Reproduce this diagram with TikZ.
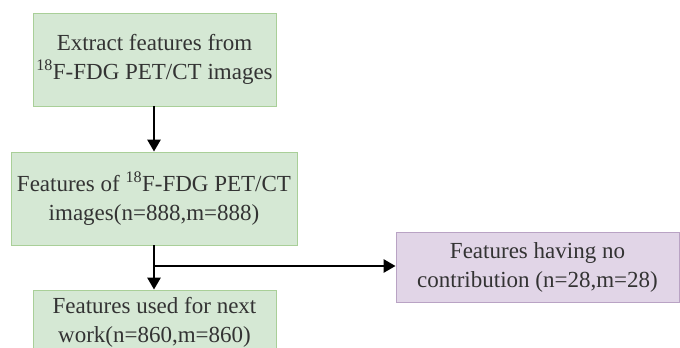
\documentclass[tikz,border=0pt]{standalone}
\usepackage{fontspec}
\setmainfont{Liberation Serif}
\usetikzlibrary{arrows.meta}
\definecolor{gfill}{HTML}{D5E8D4}
\definecolor{gdraw}{HTML}{A9CF98}
\definecolor{pfill}{HTML}{E1D5E7}
\definecolor{pdraw}{HTML}{B9A3C4}
\tikzset{
  box/.style={draw=gdraw, fill=gfill, line width=0.8pt, align=center, inner sep=0pt,
    font=\fontsize{23}{29}\selectfont, text=black!80},
  pbox/.style={box, draw=pdraw, fill=pfill},
  conn/.style={line width=2.6pt, -{Triangle[length=12pt,width=13pt]}},
}
\begin{document}
\begin{tikzpicture}[x=1pt,y=-1pt]
\useasboundingbox (0,0) rectangle (680,348);
\clip (0,0) rectangle (680,348);
\node[box, minimum width=243pt, minimum height=93pt] (a) at (154.5,59.5)
  {Extract features from\\\textsuperscript{18}F-FDG PET/CT images};
\node[box, minimum width=286pt, minimum height=93pt] (b) at (154,198.5)
  {Features of \textsuperscript{18}F-FDG PET/CT\\images(n=888,m=888)};
\node[box, minimum width=243pt, minimum height=64pt] (c) at (154.5,322)
  {Features used for next\\work(n=860,m=860)};
\node[pbox, minimum width=283pt, minimum height=70pt] (d) at (537.5,267)
  {Features having no\\contribution (n=28,m=28)};
\coordinate (j) at (154,266);
\draw[conn] (a.south -| j) -- (b.north -| j);
\draw[conn] (b.south -| j) -- (c.north -| j);
\draw[conn] (j) -- (j -| d.west);
\end{tikzpicture}
\end{document}
